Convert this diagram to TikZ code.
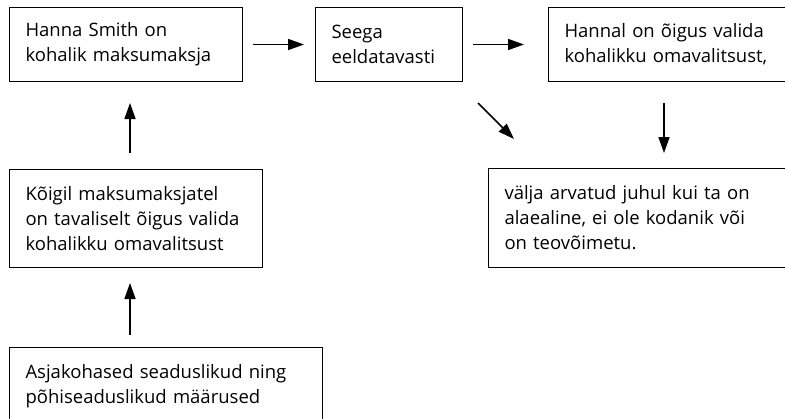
\documentclass[tikz,border=0pt]{standalone}
\usepackage{fontspec}
\setmainfont{Open Sans}
\usetikzlibrary{arrows.meta}
\begin{document}
\begin{tikzpicture}[x=1pt,y=-1pt,
    box/.style={draw, line width=1pt, anchor=north west, align=left, inner xsep=16pt, inner ysep=0pt, font=\fontsize{18.5}{25}\selectfont},
    arr/.style={-{Triangle[length=16pt,width=11pt]}, line width=1.6pt}]
    \clip (0,0) rectangle (785,418);
    \node[box, text width=201pt, minimum height=74pt] (smith) at (9,7) {Hanna Smith on\\kohalik maksumaksja};
    \node[box, text width=115pt, minimum height=74pt] (seega) at (315,7) {Seega\\eeldatavasti};
    \node[box, text width=240pt, minimum height=74pt] (hannal) at (548,7) {Hannal on õigus valida\\kohalikku omavalitsust,};
    \node[box, text width=221pt, minimum height=98pt] (koigil) at (9,169) {Kõigil maksumaksjatel\\on tavaliselt õigus valida\\kohalikku omavalitsust};
    \node[box, text width=280pt, minimum height=99pt] (valja) at (488,168) {välja arvatud juhul kui ta on\\alaealine, ei ole kodanik või\\on teovõimetu.};
    \node[box, text width=281pt, minimum height=78pt] (asja) at (9,347) {Asjakohased seaduslikud ning\\põhiseaduslikud määrused};
    \coordinate (col) at (130,0);
    \coordinate (col2) at (664,0);
    \coordinate (tip) at ([shift={(51,57)}]seega.south east);
    \draw[arr, shorten <=10pt, shorten >=11pt] (smith.east) -- (seega.west);
    \draw[arr, shorten <=10pt, shorten >=24pt] (seega.east) -- (hannal.west);
    \draw[arr] ([shift={(15,21)}]seega.south east) -- (tip);
    \draw[arr, shorten <=21pt, shorten >=15pt] (hannal.south -| col2) -- (valja.north -| col2);
    \draw[arr, shorten <=16pt, shorten >=21pt] (koigil.north -| col) -- (smith.south -| col);
    \draw[arr, shorten <=12pt, shorten >=15pt] (asja.north -| col) -- (koigil.south -| col);
\end{tikzpicture}
\end{document}
